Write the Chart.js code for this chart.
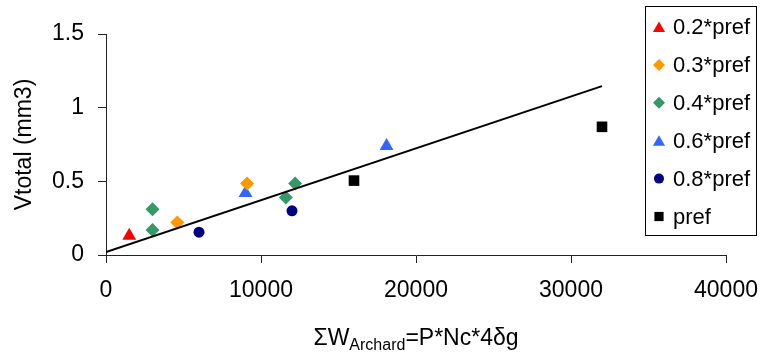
<!DOCTYPE html>
<html>
<head>
<meta charset="utf-8">
<title>Vtotal vs Archard work</title>
<script src="https://cdn.jsdelivr.net/npm/chart.js@4/dist/chart.umd.min.js"></script>
<style>
  html, body { margin: 0; padding: 0; background: #fff; }
  #wrap { width: 763px; height: 356px; }
</style>
</head>
<body>
<div id="wrap"><canvas id="chart" width="763" height="356"></canvas></div>
<script>
// ---- data ----
const seriesLabels = ['0.2*pref', '0.3*pref', '0.4*pref', '0.6*pref', '0.8*pref', 'pref'];
const seriesColors = ['#FF0000', '#FF9900', '#339966', '#3366FF', '#000080', '#000000'];
const seriesStyles = ['triangle', 'rectRot', 'rectRot', 'triangle', 'circle', 'rect'];

const p02X = [1500];
const p02Y = [0.13];
const p03X = [4600, 9100];
const p03Y = [0.22, 0.485];
const p04X = [3000, 3000, 11600, 12200];
const p04Y = [0.31, 0.17, 0.39, 0.485];
const p06X = [9000, 18100];
const p06Y = [0.42, 0.74];
const p08X = [6000, 12000];
const p08Y = [0.155, 0.30];
const prefX = [16000, 32000];
const prefY = [0.505, 0.87];

// linear trend line end points
const trendX = [0, 32000];
const trendY = [0.02, 1.146];

const xTicks = [0, 10000, 20000, 30000, 40000];
const yTicks = [0, 0.5, 1, 1.5];

const FONT = "'Liberation Sans', Arial, sans-serif";

function pts(xs, ys) {
    return xs.map((x, i) => ({ x: x, y: ys[i] }));
}

const allX = [p02X, p03X, p04X, p06X, p08X, prefX];
const allY = [p02Y, p03Y, p04Y, p06Y, p08Y, prefY];
const markerRadius = [8, 7, 7, 8, 5.5, 7.5];

const datasets = [{
    label: 'trend',
    data: pts(trendX, trendY),
    showLine: true,
    borderColor: '#000',
    borderWidth: 2,
    pointRadius: 0,
    fill: false
}];
seriesLabels.forEach((lab, i) => {
    datasets.push({
        label: lab,
        data: pts(allX[i], allY[i]),
        pointStyle: seriesStyles[i],
        pointRadius: markerRadius[i],
        pointHoverRadius: markerRadius[i],
        backgroundColor: seriesColors[i],
        borderColor: seriesColors[i],
        borderWidth: 0
    });
});

// small marker painter for the legend box
function drawMarker(ctx, style, x, y, r, color) {
    ctx.save();
    ctx.fillStyle = color;
    ctx.beginPath();
    if (style === 'triangle') {
        ctx.moveTo(x, y - r);
        ctx.lineTo(x + r * 0.866, y + r / 2);
        ctx.lineTo(x - r * 0.866, y + r / 2);
    } else if (style === 'rectRot') {
        ctx.moveTo(x - r, y);
        ctx.lineTo(x, y - r);
        ctx.lineTo(x + r, y);
        ctx.lineTo(x, y + r);
    } else if (style === 'circle') {
        ctx.arc(x, y, r, 0, Math.PI * 2);
    } else {
        const s = r * Math.SQRT1_2;
        ctx.rect(x - s, y - s, 2 * s, 2 * s);
    }
    ctx.closePath();
    ctx.fill();
    ctx.restore();
}

const extras = {
    id: 'extras',
    afterDraw(chart) {
        const ctx = chart.ctx;
        const area = chart.chartArea;
        ctx.save();
        ctx.fillStyle = '#000';

        // y axis title
        ctx.font = '23px ' + FONT;
        ctx.textAlign = 'center';
        ctx.textBaseline = 'middle';
        ctx.save();
        ctx.translate(25, (area.top + area.bottom) / 2);
        ctx.rotate(-Math.PI / 2);
        ctx.fillText('Vtotal (mm3)', 0, 0);
        ctx.restore();

        // x axis title with subscript
        const partA = '\u03A3W', partB = 'Archard', partC = '=P*Nc*4\u03B4g';
        const mainFont = '23px ' + FONT, subFont = '16px ' + FONT;
        ctx.textAlign = 'left';
        ctx.textBaseline = 'alphabetic';
        ctx.font = mainFont;
        const wA = ctx.measureText(partA).width;
        const wC = ctx.measureText(partC).width;
        ctx.font = subFont;
        const wB = ctx.measureText(partB).width;
        let x = (area.left + area.right) / 2 - (wA + wB + wC) / 2;
        const base = 345;
        ctx.font = mainFont;
        ctx.fillText(partA, x, base);
        x += wA;
        ctx.font = subFont;
        ctx.fillText(partB, x, base + 5);
        x += wB;
        ctx.font = mainFont;
        ctx.fillText(partC, x, base);

        // legend box
        const box = { l: 645, t: 6, r: 757, b: 236 };
        ctx.fillStyle = '#fff';
        ctx.fillRect(box.l, box.t, box.r - box.l, box.b - box.t);
        ctx.strokeStyle = '#000';
        ctx.lineWidth = 1;
        ctx.strokeRect(box.l + 0.5, box.t + 0.5, box.r - box.l - 1, box.b - box.t - 1);
        ctx.font = '22px ' + FONT;
        ctx.textBaseline = 'middle';
        ctx.fillStyle = '#000';
        const legR = [7, 6, 6, 7, 5, 6.5];
        seriesLabels.forEach((lab, i) => {
            const y = 27 + i * 37.9;
            drawMarker(ctx, seriesStyles[i], 659, y + (seriesStyles[i] === 'triangle' ? 1.5 : 0), legR[i], seriesColors[i]);
            ctx.fillStyle = '#000';
            ctx.fillText(lab, 673, y + 1);
        });
        ctx.restore();
    }
};

new Chart(document.getElementById('chart'), {
    type: 'scatter',
    data: { datasets: datasets },
    options: {
        responsive: false,
        animation: false,
        layout: { padding: { top: 34, right: 37, left: 0, bottom: 0 } },
        plugins: {
            legend: { display: false },
            tooltip: { enabled: false }
        },
        scales: {
            x: {
                type: 'linear',
                min: 0,
                max: 40000,
                afterFit: s => {
                    s.height = 101;
                    s.paddingLeft = 0;
                    s.paddingRight = 0;
                },
                afterBuildTicks: s => { s.ticks = xTicks.map(v => ({ value: v })); },
                grid: { drawOnChartArea: false, drawTicks: true, tickLength: 8, color: '#222' },
                border: { display: true, color: '#222', width: 1 },
                ticks: {
                    padding: 14,
                    color: '#000',
                    font: { family: FONT, size: 23 },
                    maxRotation: 0,
                    callback: v => String(v)
                }
            },
            y: {
                type: 'linear',
                min: 0,
                max: 1.5,
                afterFit: s => {
                    s.width = 106;
                    s.paddingTop = 0;
                    s.paddingBottom = 0;
                },
                afterBuildTicks: s => { s.ticks = yTicks.map(v => ({ value: v })); },
                grid: { drawOnChartArea: false, drawTicks: true, tickLength: 8, color: '#222' },
                border: { display: true, color: '#222', width: 1 },
                ticks: {
                    padding: 14,
                    color: '#000',
                    font: { family: FONT, size: 23 },
                    callback: v => String(v)
                }
            }
        }
    },
    plugins: [extras]
});
</script>
</body>
</html>
